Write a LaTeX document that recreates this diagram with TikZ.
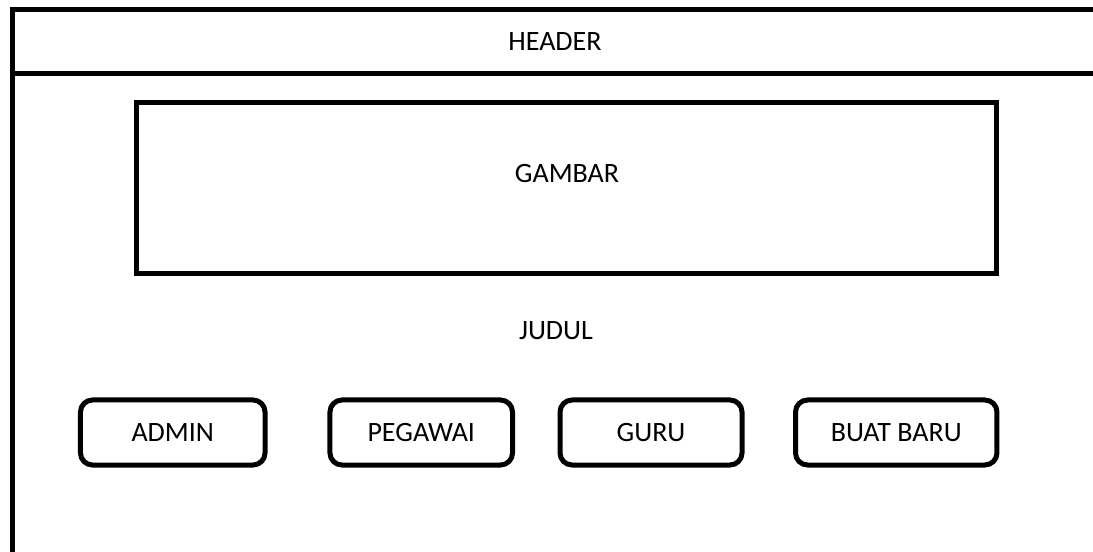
\documentclass[tikz,border=0pt]{standalone}
\usepackage{fontspec}
\setmainfont{Carlito}
\usetikzlibrary{positioning}

\begin{document}
\begin{tikzpicture}[x=0.75pt, y=-0.75pt,
    framenode/.style={rectangle, draw=black, line width=3.75pt},
    buttonnode/.style={rectangle, rounded corners=9pt, draw=black, line width=3.75pt, minimum height=48.75pt, font=\fontsize{21}{25}\selectfont},
    textnode/.style={font=\fontsize{21}{25}\selectfont},
    ]
    \useasboundingbox (0,0) rectangle (1093,552);

    %Frame
    \draw[line width=3.75pt] (1093,9.5) -- (12,9.5) -- (12,552);
    \draw[line width=3.75pt] (12,73.5) -- (1093,73.5);

    %Nodes
    \node[textnode] (header) at (555,42) {HEADER};
    \node[framenode, minimum width=645pt, minimum height=128.6pt] (gambar) at (566.5,188.25) {};
    \node[textnode] (gambartext) at (567,174) {GAMBAR};
    \node[textnode] (judul) at (556,331) {JUDUL};

    \node[buttonnode, minimum width=138.4pt] (admin)   at (172.75,432.5) {ADMIN};
    \node[buttonnode, minimum width=136.9pt] (pegawai) at (421.25,432.5) {PEGAWAI};
    \node[buttonnode, minimum width=136.5pt] (guru)    at (651,432.5)    {GURU};
    \node[buttonnode, minimum width=151.1pt] (buatbaru) at (896.25,432.5) {BUAT BARU};

\end{tikzpicture}
\end{document}
